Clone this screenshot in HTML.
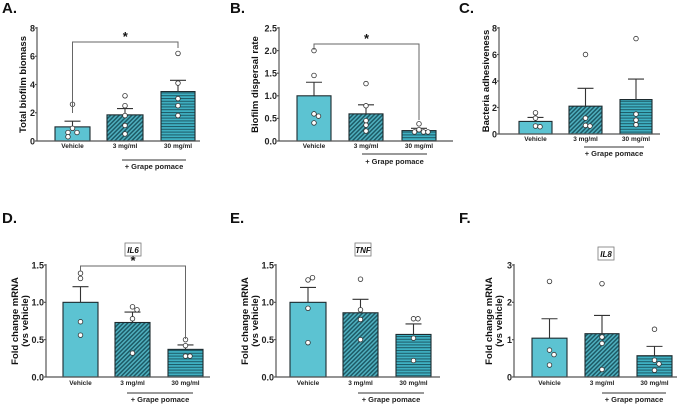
<!DOCTYPE html>
<html><head><meta charset="utf-8">
<style>
html,body{margin:0;padding:0;background:#fff;}
svg{display:block;font-family:"Liberation Sans",Arial,sans-serif;}
</style></head>
<body>
<svg id="fig" width="691" height="405" viewBox="0 0 691 405" xmlns="http://www.w3.org/2000/svg">
<defs>
<pattern id="diag" patternUnits="userSpaceOnUse" width="3" height="3" patternTransform="rotate(45)">
<rect width="3" height="3" fill="#4fb0bf"/><rect width="1.5" height="3" fill="#1d5a66"/>
</pattern>
<pattern id="horiz" patternUnits="userSpaceOnUse" width="4" height="2.8">
<rect width="4" height="2.8" fill="#3fb0c2"/><rect width="4" height="1" fill="#1d5a66"/>
</pattern>
</defs>
</svg>
<script>
const categories=['Vehicle','3 mg/ml','30 mg/ml'];
const meanA=[1.0,1.85,3.5], errA=[1.4,2.3,4.3];
const ptsA=[[2.6,0.9,0.6,0.6,0.3],[3.2,2.5,1.8,1.1,0.5],[6.2,4.1,3.0,2.5,1.8]];
const ticksA=[0,2,4,6,8];
const meanB=[1.0,0.6,0.23], errB=[1.3,0.8,0.28];
const ptsB=[[2.0,1.45,0.6,0.55,0.4],[1.27,0.78,0.45,0.35,0.22],[0.38,0.25,0.2,0.2,0.2]];
const ticksB=[0,0.5,1.0,1.5,2.0,2.5];
const meanC=[0.95,2.1,2.6], errC=[1.25,3.45,4.15];
const ptsC=[[1.6,1.2,0.6,0.55],[6.0,1.2,0.65,0.6],[7.2,1.5,1.05,0.7]];
const ticksC=[0,2,4,6,8];
const meanD=[1.0,0.73,0.37], errD=[1.21,0.87,0.43];
const ptsD=[[1.39,1.32,0.74,0.56],[0.94,0.9,0.78,0.32],[0.5,0.42,0.28,0.28]];
const ticksD=[0,0.5,1.0,1.5];
const meanE=[1.0,0.86,0.57], errE=[1.2,1.04,0.71];
const ptsE=[[1.3,1.33,0.92,0.46],[1.31,0.9,0.77,0.5],[0.78,0.78,0.52,0.22]];
const ticksE=[0,0.5,1.0,1.5];
const meanF=[1.04,1.16,0.57], errF=[1.56,1.65,0.82];
const ptsF=[[2.56,0.72,0.6,0.32],[2.5,1.07,0.9,0.2],[1.28,0.45,0.35,0.18]];
const ticksF=[0,1,2,3];

const svg=document.getElementById('fig');
const NS='http://www.w3.org/2000/svg';
function mk(tag,attrs,parent){const e=document.createElementNS(NS,tag);for(const k in attrs)e.setAttribute(k,attrs[k]);(parent||svg).appendChild(e);return e;}
const fills=['#5cc3d2','url(#diag)','url(#horiz)'];

function panel(p){
  const g=mk('g',{});
  
  
  const y=v=>p.y0-(v/p.max)*(p.y0-p.yTop);
  const lab=mk('text',{x:p.lx,y:p.ly,'font-size':15,'font-weight':'bold',fill:'#111'},g);lab.textContent=p.id+'.';
  
  
  const ya=mk('line',{x1:p.ax,y1:p.yTop-1,x2:p.ax,y2:p.y0,stroke:'#555','stroke-width':1.2},g);
  
  
  p.ticks.forEach(t=>{
    mk('line',{x1:p.ax-2,y1:y(t),x2:p.ax,y2:y(t),stroke:'#555','stroke-width':1.2},g);
    const tt=mk('text',{x:p.ax-2,y:y(t)+3.3,'font-size':9,'font-weight':'bold','text-anchor':'end',fill:'#222'},g);
    tt.textContent=p.tfmt?t.toFixed(1):t;
    
    
  });
  const cy=(p.yTop+p.y0)/2;
  const yt=mk('text',{x:0,y:0,'font-size':9.5,'font-weight':'bold','text-anchor':'middle',fill:'#111',transform:`translate(${p.tx},${cy}) rotate(-90)`},g);
  
  
  p.title.forEach((s,i)=>{const ts=mk('tspan',{x:0,dy:i?10:0},yt);ts.textContent=s;});
  p.mean.forEach((m,i)=>{
    const [x1,x2]=p.bars[i];const xc=(x1+x2)/2;
    const b=mk('rect',{x:x1,y:y(m),width:x2-x1,height:p.y0-y(m),fill:fills[i],stroke:'#1d2a2e','stroke-width':1.1},g);
    
    
    const e=mk('path',{d:`M${xc},${y(m)}V${y(p.err[i])}M${xc-8},${y(p.err[i])}H${xc+8}`,stroke:'#333','stroke-width':1.1,fill:'none'},g);
    
    
    const pts=p.pts[i];const used=[];
    pts.forEach((v,j)=>{
      let dx=0;const close=used.filter(u=>Math.abs(y(u)-y(v))<4.5).length;
      if(close)dx=(close%2?1:-1)*4.5*Math.ceil(close/2);
      used.push(v);
      const c=mk('circle',{cx:xc+dx,cy:y(v),r:2.3,fill:'#fff',stroke:'#333','stroke-width':0.8},g);
      
      
    });
    const cl=mk('text',{x:xc,y:p.cly,'font-size':6.5,'font-weight':'bold','text-anchor':'middle',fill:'#222'},g);
    cl.textContent=categories[i];
    
    
  });
  const xa=mk('line',{x1:p.ax,y1:p.y0,x2:p.axEnd,y2:p.y0,stroke:'#555','stroke-width':1.2},g);
  
  
  const gl=mk('line',{x1:p.gx[0],y1:p.gly,x2:p.gx[1],y2:p.gly,stroke:'#333','stroke-width':1},g);
  
  
  const gt=mk('text',{x:(p.gx[0]+p.gx[1])/2,y:p.gty,'font-size':7.5,'font-weight':'bold','text-anchor':'middle',fill:'#222'},g);
  gt.textContent='+ Grape pomace';
  
  
  if(p.sig){
    const xa1=(p.bars[0][0]+p.bars[0][1])/2,xa2=(p.bars[2][0]+p.bars[2][1])/2;
    const sb=mk('path',{d:`M${xa1},${p.sig.y1}V${p.sig.y}H${xa2}V${p.sig.y2}`,stroke:'#666','stroke-width':1,fill:'none'},g);
    
    
    const st=mk('text',{x:(xa1+xa2)/2,y:p.sig.y-1,'font-size':13,'font-weight':'bold','text-anchor':'middle',fill:'#111'},g);
    st.textContent='*';
    
    
  }
  if(p.gene){
    const bx=mk('rect',{x:p.gene.x-8,y:p.gene.y-7,width:16,height:13,fill:'#fff',stroke:'#777','stroke-width':0.8},g);
    
    
    const gn=mk('text',{x:p.gene.x,y:p.gene.y+3,'font-size':8,'font-weight':'bold','font-style':'italic','text-anchor':'middle',fill:'#111'},g);
    gn.textContent=p.gene.t;
    
    
  }
}
panel({id:'A',lx:2,ly:13,ax:37,axEnd:200,yTop:28,y0:141,max:8,ticks:ticksA,tx:26,title:['Total biofilm biomass'],
  mean:meanA,err:errA,pts:ptsA,bars:[[55,90],[107,143],[161,195]],cly:148,gx:[122,186],gly:160,gty:169,sig:{y:42,y1:113,y2:48}});
panel({id:'B',lx:230,ly:13,ax:279,axEnd:453,yTop:28,y0:141,max:2.5,ticks:ticksB,tfmt:1,tx:258,title:['Biofilm dispersal rate'],
  mean:meanB,err:errB,pts:ptsB,bars:[[297,331],[349,383],[402,436]],cly:148,gx:[362,427],gly:154,gty:164,sig:{y:44,y1:50,y2:120}});
panel({id:'C',lx:459,ly:13,ax:499,axEnd:660,yTop:28,y0:134,max:8,ticks:ticksC,tx:489,title:['Bacteria adhesiveness'],
  mean:meanC,err:errC,pts:ptsC,bars:[[519,552],[569,602],[620,652]],cly:141,gx:[584,644],gly:147,gty:156});
panel({id:'D',lx:2,ly:223,ax:46,axEnd:210,yTop:265,y0:377,max:1.5,ticks:ticksD,tfmt:1,tx:18,title:['Fold change mRNA','(vs vehicle)'],
  mean:meanD,err:errD,pts:ptsD,bars:[[63,98],[115,150],[168,203]],cly:385,gx:[127,193],gly:393,gty:402,sig:{y:266,y1:271,y2:339},gene:{x:133,y:250,t:'IL6'}});
panel({id:'E',lx:230,ly:223,ax:276,axEnd:440,yTop:265,y0:377,max:1.5,ticks:ticksE,tfmt:1,tx:248,title:['Fold change mRNA','(vs vehicle)'],
  mean:meanE,err:errE,pts:ptsE,bars:[[290,326],[343,378],[396,431]],cly:385,gx:[358,424],gly:393,gty:402,gene:{x:363,y:250,t:'TNF'}});
panel({id:'F',lx:459,ly:223,ax:514,axEnd:677,yTop:265,y0:377,max:3,ticks:ticksF,tx:492,title:['Fold change mRNA','(vs vehicle)'],
  mean:meanF,err:errF,pts:ptsF,bars:[[532,567],[585,619],[637,672]],cly:385,gx:[602,666],gly:393,gty:402,gene:{x:606,y:254,t:'IL8'}});
</script>
</body></html>
